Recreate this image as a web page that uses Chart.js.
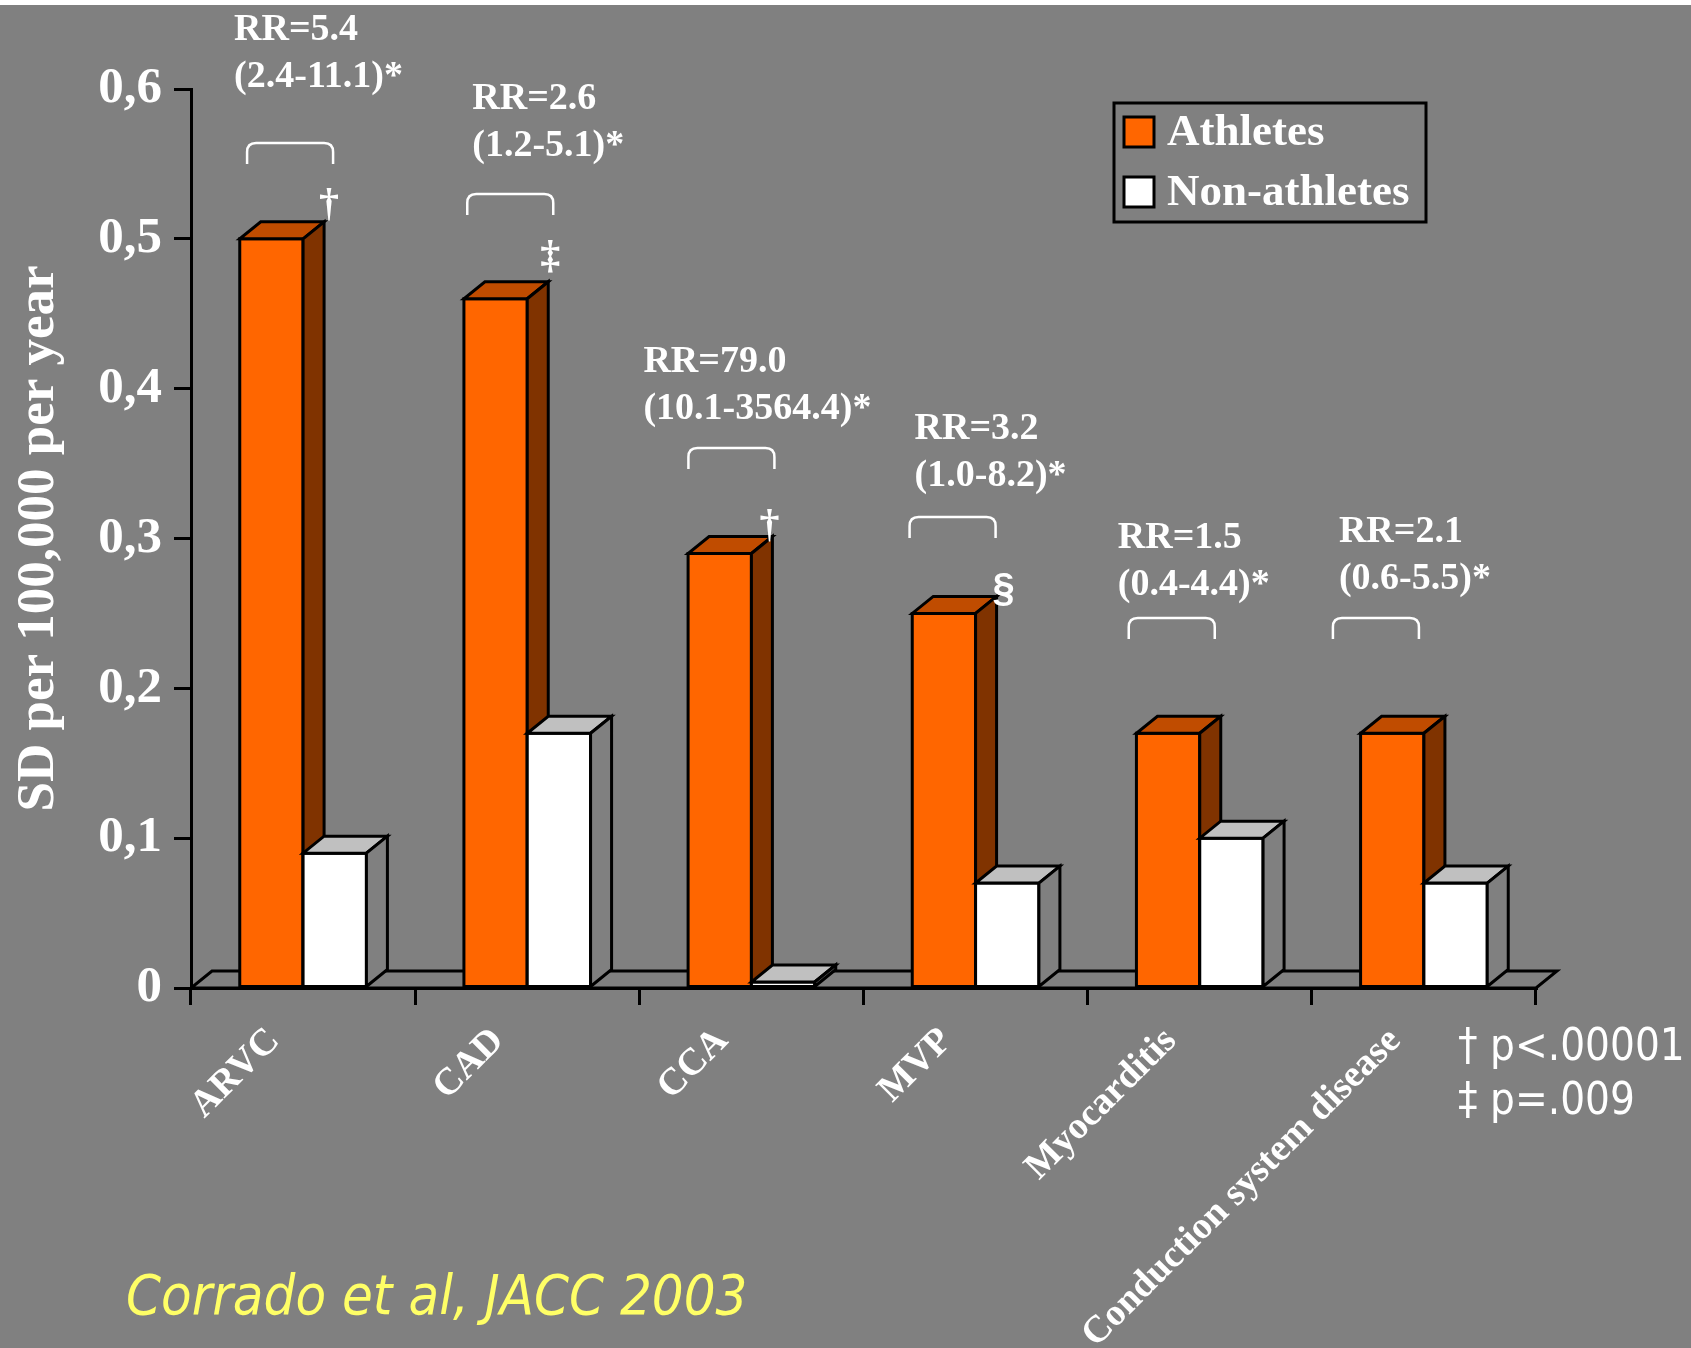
<!DOCTYPE html>
<html>
<head>
<meta charset="utf-8">
<script src="https://cdn.jsdelivr.net/npm/chart.js@4.4.1/dist/chart.umd.min.js"></script>
<style>
  html, body { margin: 0; padding: 0; background: #808080; overflow: hidden; }
  canvas { display: block; }
</style>
</head>
<body>
<canvas id="chart" width="1691" height="1348"></canvas>
<script>
// ---- data ----
const categories = ['ARVC', 'CAD', 'CCA', 'MVP', 'Myocarditis', 'Conduction system disease'];
const athletes = [0.50, 0.46, 0.29, 0.25, 0.17, 0.17];
const nonAthletes = [0.09, 0.17, 0.004, 0.07, 0.10, 0.07];
const yTickLabels = ['0', '0,1', '0,2', '0,3', '0,4', '0,5', '0,6'];
const rrLabels = ['RR=5.4', 'RR=2.6', 'RR=79.0', 'RR=3.2', 'RR=1.5', 'RR=2.1'];
const ciLabels = ['(2.4-11.1)*', '(1.2-5.1)*', '(10.1-3564.4)*', '(1.0-8.2)*', '(0.4-4.4)*', '(0.6-5.5)*'];
const significance = ['\u2020', '\u2021', '\u2020', '\u00A7', '', ''];
const footnotes = ['\u2020 p<.00001', '\u2021 p=.009'];
const sourceNote = 'Corrado et al, JACC 2003';

// ---- look ----
const BG = '#808080';
const SERIF = '"Liberation Serif", "Times New Roman", serif';
const SANS = '"DejaVu Sans", Verdana, sans-serif';
const DEPTH_X = 21, DEPTH_Y = -17;
const faces = [
  { front: '#FF6600', top: '#C04C00', side: '#803300' },
  { front: '#FFFFFF', top: '#C0C0C0', side: '#808080' }
];

// annotation placement per category (x relative to category centre)
const rrLayout = [
  { tx: -69, ty: 40,  bx: -56, by: 143 },
  { tx: -55, ty: 109, bx: -60, by: 194 },
  { tx: -108, ty: 372, bx: -63, by: 448 },
  { tx: -61, ty: 439, bx: -66, by: 517 },
  { tx: -82, ty: 548, bx: -71, by: 618 },
  { tx: -85, ty: 542, bx: -91, by: 618 }
];
// significance mark offsets from the back-right top corner of the athletes bar
const markLayout = [
  { dx: 5, dy: -1, font: 'bold 40px ' + SERIF },
  { dx: 2, dy: -9, font: 'bold 40px ' + SERIF },
  { dx: -3, dy: 6, font: 'bold 40px ' + SERIF },
  { dx: 7, dy: 10, font: 'bold 40px "Liberation Sans", Arial, sans-serif' }
];

function polygon(ctx, pts, fill) {
  ctx.beginPath();
  ctx.moveTo(pts[0][0], pts[0][1]);
  for (let k = 1; k < pts.length; k++) ctx.lineTo(pts[k][0], pts[k][1]);
  ctx.closePath();
  ctx.fillStyle = fill;
  ctx.fill();
  ctx.stroke();
}

function drawColumn(ctx, el, face) {
  const p = el.getProps(['x', 'y', 'base', 'width'], true);
  const L = p.x - p.width / 2, R = p.x + p.width / 2, T = p.y, B = p.base;
  polygon(ctx, [[L, T], [R, T], [R, B], [L, B]], face.front);
  polygon(ctx, [[L, T], [R, T], [R + DEPTH_X, T + DEPTH_Y], [L + DEPTH_X, T + DEPTH_Y]], face.top);
  polygon(ctx, [[R, T], [R + DEPTH_X, T + DEPTH_Y], [R + DEPTH_X, B + DEPTH_Y], [R, B]], face.side);
}

const backdrop = {
  id: 'backdrop',
  beforeDraw(chart) {
    const { ctx, width, height } = chart;
    ctx.save();
    ctx.fillStyle = '#FFFFFF';
    ctx.fillRect(0, 0, width, height);
    ctx.fillStyle = BG;
    ctx.fillRect(0, 5, width, height - 5);
    ctx.restore();
  }
};

const columns3d = {
  id: 'columns3d',
  beforeDatasetsDraw(chart) {
    const { ctx, chartArea: a } = chart;
    ctx.save();
    ctx.lineWidth = 3;
    ctx.strokeStyle = '#000';
    ctx.lineJoin = 'miter';
    polygon(ctx, [[a.left, a.bottom], [a.right, a.bottom],
      [a.right + DEPTH_X, a.bottom + DEPTH_Y], [a.left + DEPTH_X, a.bottom + DEPTH_Y]], BG);
    ctx.restore();
  },
  afterDatasetsDraw(chart) {
    const { ctx } = chart;
    const m0 = chart.getDatasetMeta(0), m1 = chart.getDatasetMeta(1);
    ctx.save();
    ctx.lineWidth = 3;
    ctx.strokeStyle = '#000';
    ctx.lineJoin = 'miter';
    for (let i = 0; i < categories.length; i++) {
      drawColumn(ctx, m0.data[i], faces[0]);
      drawColumn(ctx, m1.data[i], faces[1]);
    }
    ctx.restore();
  }
};

const annotations = {
  id: 'annotations',
  afterDraw(chart) {
    const { ctx } = chart;
    const xs = chart.scales.x;
    const m0 = chart.getDatasetMeta(0);
    ctx.save();
    ctx.fillStyle = '#FFFFFF';
    ctx.strokeStyle = '#FFFFFF';
    // relative-risk labels with brackets
    for (let i = 0; i < categories.length; i++) {
      const cx = xs.getPixelForValue(i);
      const lay = rrLayout[i];
      ctx.font = 'bold 38px ' + SERIF;
      ctx.textAlign = 'left';
      ctx.textBaseline = 'alphabetic';
      ctx.fillText(rrLabels[i], cx + lay.tx, lay.ty);
      ctx.fillText(ciLabels[i], cx + lay.tx, lay.ty + 47);
      // bracket
      const bl = cx + lay.bx, br = bl + 86, bt = lay.by, bb = bt + 21, r = 9;
      ctx.lineWidth = 2.5;
      ctx.beginPath();
      ctx.moveTo(bl, bb);
      ctx.lineTo(bl, bt + r);
      ctx.quadraticCurveTo(bl, bt, bl + r, bt);
      ctx.lineTo(br - r, bt);
      ctx.quadraticCurveTo(br, bt, br, bt + r);
      ctx.lineTo(br, bb);
      ctx.stroke();
    }
    // significance marks above the athletes columns
    for (let i = 0; i < significance.length; i++) {
      if (!significance[i]) continue;
      const p = m0.data[i].getProps(['x', 'y', 'width'], true);
      const cornerX = p.x + p.width / 2 + DEPTH_X;
      const cornerY = p.y + DEPTH_Y;
      const lay = markLayout[i];
      ctx.font = lay.font;
      ctx.textAlign = 'center';
      ctx.textBaseline = 'alphabetic';
      const m = ctx.measureText(significance[i]);
      ctx.fillText(significance[i], cornerX + lay.dx, cornerY + lay.dy - m.actualBoundingBoxDescent);
    }
    // legend
    ctx.lineWidth = 3;
    ctx.strokeStyle = '#000';
    ctx.strokeRect(1114, 103, 312, 119);
    chart.data.datasets.forEach((ds, k) => {
      const y = 117 + k * 60;
      ctx.fillStyle = ds.backgroundColor;
      ctx.fillRect(1124, y, 30, 30);
      ctx.strokeRect(1124, y, 30, 30);
      ctx.fillStyle = '#FFFFFF';
      ctx.font = 'bold 45px ' + SERIF;
      ctx.textAlign = 'left';
      ctx.fillText(ds.label, 1167, y + 28);
    });
    // p-value footnotes
    ctx.fillStyle = '#FFFFFF';
    ctx.font = '44px ' + SANS;
    footnotes.forEach((t, k) => {
      ctx.save();
      ctx.translate(1458, 1060 + k * 54);
      ctx.scale(0.89, 1);
      ctx.fillText(t, 0, 0);
      ctx.restore();
    });
    // source
    ctx.fillStyle = '#FFFF66';
    ctx.font = 'italic 56px ' + SANS;
    ctx.save();
    ctx.translate(126, 1314);
    ctx.scale(0.895, 1);
    ctx.fillText(sourceNote, 0, 0);
    ctx.restore();
    ctx.restore();
  }
};

Chart.defaults.color = '#FFFFFF';

new Chart(document.getElementById('chart'), {
  type: 'bar',
  data: {
    labels: categories,
    datasets: [
      { label: 'Athletes', data: athletes, backgroundColor: faces[0].front, borderWidth: 0,
        categoryPercentage: 0.565, barPercentage: 1.0 },
      { label: 'Non-athletes', data: nonAthletes, backgroundColor: faces[1].front, borderWidth: 0,
        categoryPercentage: 0.565, barPercentage: 1.0 }
    ]
  },
  options: {
    responsive: false,
    animation: false,
    events: [],
    layout: { padding: { top: 89, right: 155, left: 0, bottom: 0 } },
    plugins: { legend: { display: false }, tooltip: { enabled: false } },
    scales: {
      x: {
        afterFit(scale) { scale.height = 360; },
        grid: { drawOnChartArea: false, drawTicks: true, tickLength: 17, color: '#000', lineWidth: 3, offset: true },
        border: { display: true, color: '#000', width: 3 },
        ticks: {
          color: '#FFFFFF',
          font: { family: SERIF, weight: 'bold', size: 38 },
          minRotation: 45, maxRotation: 45, autoSkip: false,
          labelOffset: -29, padding: 14
        }
      },
      y: {
        min: 0, max: 0.6,
        afterFit(scale) { scale.width = 191; },
        grid: { drawOnChartArea: false, drawTicks: true, tickLength: 17, color: '#000', lineWidth: 3 },
        border: { display: true, color: '#000', width: 3 },
        ticks: {
          stepSize: 0.1,
          color: '#FFFFFF',
          padding: 12,
          font: { family: SERIF, weight: 'bold', size: 51 },
          callback: (v, idx) => yTickLabels[idx]
        },
        title: {
          display: true,
          text: 'SD per 100,000 per year',
          color: '#FFFFFF',
          font: { family: SERIF, weight: 'bold', size: 53 },
          padding: { top: 8, bottom: 0 }
        }
      }
    }
  },
  plugins: [backdrop, columns3d, annotations]
});
</script>
</body>
</html>
